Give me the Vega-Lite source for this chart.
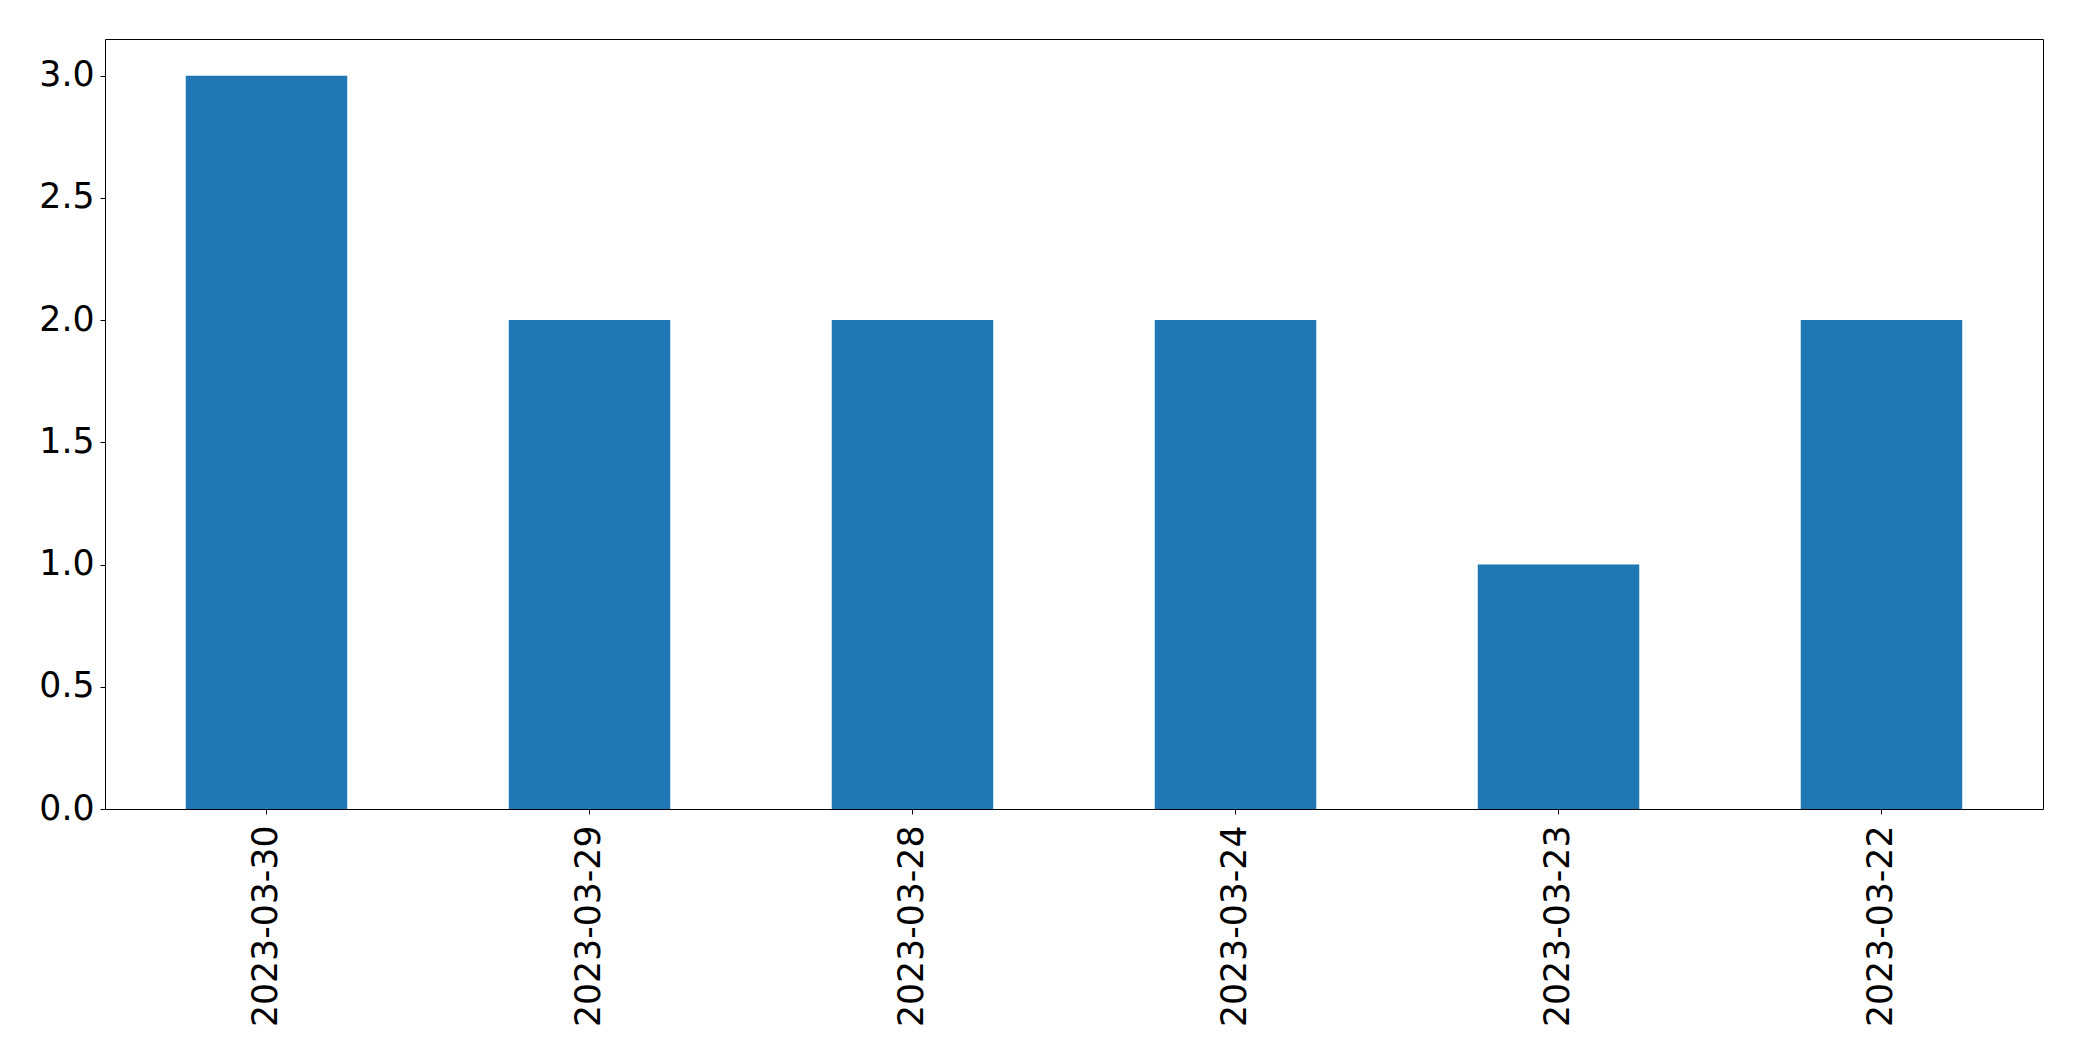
{
  "$schema": "https://vega.github.io/schema/vega-lite/v6.json",
  "width": 1938,
  "height": 770,
  "autosize": {"type": "none"},
  "padding": {"left": 105, "top": 39, "right": 39, "bottom": 252},
  "background": "white",
  "data": {
    "values": [
      {"date": "2023-03-30", "count": 3},
      {"date": "2023-03-29", "count": 2},
      {"date": "2023-03-28", "count": 2},
      {"date": "2023-03-24", "count": 2},
      {"date": "2023-03-23", "count": 1},
      {"date": "2023-03-22", "count": 2}
    ]
  },
  "mark": {"type": "bar", "color": "#1f77b4"},
  "encoding": {
    "x": {
      "field": "date",
      "type": "nominal",
      "sort": null,
      "title": null,
      "scale": {"paddingInner": 0.5, "paddingOuter": 0.25},
      "axis": {
        "labelAngle": -90,
        "labelFont": "DejaVu Sans",
        "labelFontSize": 34.7,
        "labelColor": "black",
        "labelPadding": 11,
        "labelLimit": 0,
        "tickSize": 5,
        "tickColor": "black",
        "tickWidth": 1,
        "domain": false,
        "grid": false
      }
    },
    "y": {
      "field": "count",
      "type": "quantitative",
      "title": null,
      "scale": {"domain": [0, 3.15], "nice": false},
      "axis": {
        "values": [0, 0.5, 1, 1.5, 2, 2.5, 3],
        "format": ".1f",
        "labelFont": "DejaVu Sans",
        "labelFontSize": 34.7,
        "labelColor": "black",
        "labelPadding": 6,
        "labelLimit": 0,
        "tickSize": 5,
        "tickColor": "black",
        "tickWidth": 1,
        "domain": false,
        "grid": false
      }
    }
  },
  "config": {
    "view": {"stroke": "black", "strokeWidth": 1}
  }
}
